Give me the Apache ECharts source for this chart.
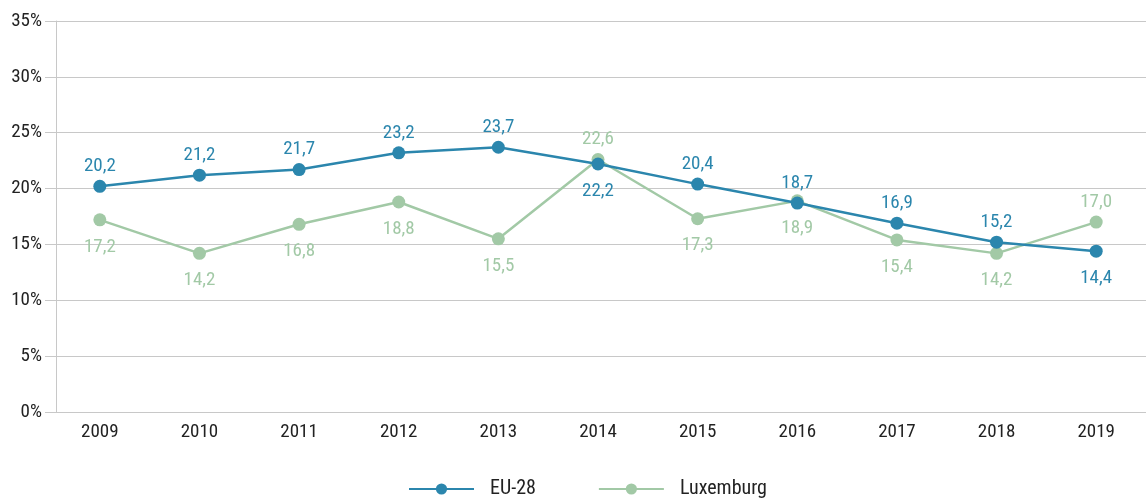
<!DOCTYPE html>
<html>
<head>
<meta charset="utf-8">
<script src="https://cdn.jsdelivr.net/npm/echarts@6/dist/echarts.min.js"></script>
<style>
  html, body { margin: 0; padding: 0; background: #fff; }
  #chart { width: 1146px; height: 501px; }
</style>
</head>
<body>
<div id="chart"></div>
<script>
const years = ["2009", "2010", "2011", "2012", "2013", "2014", "2015", "2016", "2017", "2018", "2019"];
const eu28 = [20.2, 21.2, 21.7, 23.2, 23.7, 22.2, 20.4, 18.7, 16.9, 15.2, 14.4];
const luxembourg = [17.2, 14.2, 16.8, 18.8, 15.5, 22.6, 17.3, 18.9, 15.4, 14.2, 17.0];
// which labels sit under the point
const euBelow = [false, false, false, false, false, true, false, false, false, false, true];
const luxBelow = [true, true, true, true, true, false, true, true, true, true, false];

const FONT = "'Roboto Condensed', 'Liberation Sans Narrow', 'DejaVu Sans Condensed', sans-serif";
const BLUE = "#2b86ad";
const GREEN = "#a2c9a6";

const fmt = (v) => v.toFixed(1).replace(".", ",");

function buildData(values, below) {
  return values.map((v, i) => ({
    value: v,
    label: below[i] ? { position: "bottom", distance: 11 } : { position: "top", distance: 4 },
  }));
}

const chart = echarts.init(document.getElementById("chart"));

chart.setOption({
  animation: false,
  grid: { left: 50, right: -10, top: 21, bottom: 89 },
  legend: {
    bottom: -3,
    left: 403,
    itemWidth: 65,
    itemHeight: 14,
    itemGap: 62,
    textStyle: { fontFamily: FONT, fontSize: 20, color: "#222", padding: [0, 0, 0, 11] },
    data: ["EU-28", "Luxemburg"],
  },
  xAxis: {
    type: "category",
    data: years,
    axisLine: { lineStyle: { color: "#c8c8c8", width: 1 } },
    axisTick: { inside: true, length: 6, lineStyle: { color: "#c8c8c8" } },
    axisLabel: { fontFamily: FONT, fontSize: 19, color: "#222", margin: 11 },
  },
  yAxis: [
    {
      type: "value",
      min: 0,
      max: 35,
      interval: 5,
      axisLine: { show: false },
      axisTick: { show: true, length: 5, lineStyle: { color: "#c8c8c8" } },
      splitLine: { lineStyle: { color: "#c8c8c8", width: 1 } },
      axisLabel: {
        formatter: "{value}%",
        fontFamily: FONT,
        fontSize: 19,
        color: "#222",
        margin: 8,
      },
    },
    {
      type: "value",
      position: "left",
      offset: -6,
      min: 0,
      max: 35,
      interval: 5,
      axisLine: { show: true, lineStyle: { color: "#c8c8c8", width: 1 } },
      axisTick: { show: false },
      axisLabel: { show: false },
      splitLine: { show: false },
    },
  ],
  series: [
    {
      name: "Luxemburg",
      type: "line",
      data: buildData(luxembourg, luxBelow),
      symbol: "circle",
      symbolSize: 13,
      lineStyle: { color: GREEN, width: 2.5 },
      itemStyle: { color: GREEN },
      label: {
        show: true,
        formatter: (p) => fmt(p.value),
        fontFamily: FONT,
        fontSize: 19,
        color: GREEN,
      },
      z: 2,
    },
    {
      name: "EU-28",
      type: "line",
      data: buildData(eu28, euBelow),
      symbol: "circle",
      symbolSize: 13,
      lineStyle: { color: BLUE, width: 2.5 },
      itemStyle: { color: BLUE },
      label: {
        show: true,
        formatter: (p) => fmt(p.value),
        fontFamily: FONT,
        fontSize: 19,
        color: BLUE,
      },
      z: 3,
    },
  ],
});
</script>
</body>
</html>
